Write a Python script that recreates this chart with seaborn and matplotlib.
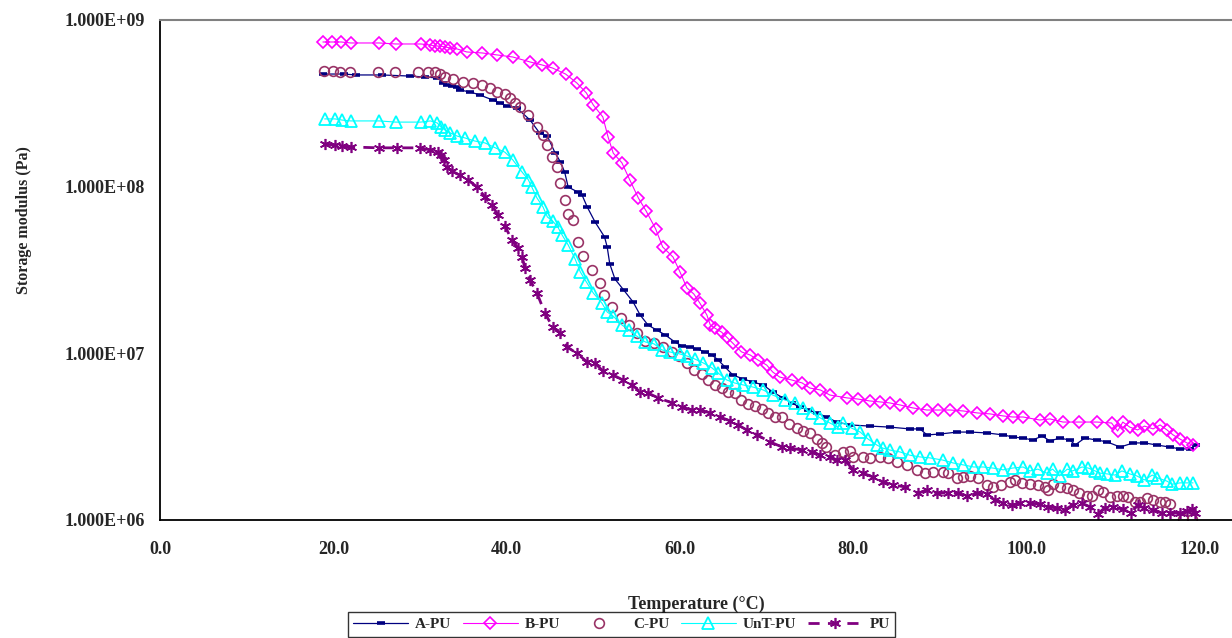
import numpy as np
import pandas as pd
import matplotlib
matplotlib.use("Agg")
import matplotlib.pyplot as plt
import matplotlib.ticker as mticker
import seaborn as sns

# === Storage modulus vs temperature ===
a_temp = [18.8, 21.2, 22.6, 25.6, 28.8, 30.6, 32.0, 32.7, 33.1, 33.7, 34.3, 34.6, 35.8, 36.9,
          38.4, 39.2, 40.0, 41.2, 42.7, 43.8, 44.7, 45.6, 46.2, 46.7, 47.1, 48.2, 48.7, 49.3,
          50.2, 51.3, 51.6, 51.9, 52.5, 53.5, 54.6, 55.4, 56.3, 57.3, 58.3, 59.4, 60.2, 61.2,
          62.0, 62.9, 63.7, 64.4, 65.2, 66.1, 67.3, 68.4, 69.6, 70.7, 71.9, 72.9, 73.8, 74.8,
          75.8, 76.9, 78.1, 79.6, 81.9, 84.2, 86.5, 87.7, 88.5, 90.0, 92.0, 93.5, 95.4, 97.3,
          98.4, 99.6, 100.7, 101.8, 102.7, 103.8, 105.0, 105.6, 106.7, 108.1, 109.3, 110.8,
          112.3, 113.6, 115.0, 116.5, 117.7, 118.8, 119.6]
a_mod = [4.74e8, 4.74e8, 4.68e8, 4.68e8, 4.61e8, 4.55e8, 4.49e8, 4.19e8, 4.07e8, 4.02e8, 3.96e8,
         3.80e8, 3.70e8, 3.55e8, 3.31e8, 3.18e8, 3.05e8, 2.96e8, 2.51e8, 2.10e8, 2.01e8, 1.59e8,
         1.41e8, 1.22e8, 9.95e7, 9.29e7, 8.91e7, 7.55e7, 6.14e7, 4.99e7, 4.35e7, 3.44e7, 2.79e7,
         2.40e7, 2.03e7, 1.70e7, 1.48e7, 1.38e7, 1.29e7, 1.17e7, 1.11e7, 1.09e7, 1.06e7, 1.02e7,
         9.77e6, 9.12e6, 8.28e6, 7.41e6, 7.02e6, 6.73e6, 6.46e6, 5.86e6, 5.40e6, 5.04e6, 4.76e6,
         4.57e6, 4.39e6, 4.15e6, 3.87e6, 3.72e6, 3.66e6, 3.61e6, 3.52e6, 3.52e6, 3.24e6, 3.28e6,
         3.37e6, 3.37e6, 3.33e6, 3.24e6, 3.15e6, 3.10e6, 3.02e6, 3.19e6, 2.98e6, 3.10e6, 3.02e6,
         2.82e6, 3.10e6, 3.02e6, 2.94e6, 2.74e6, 2.90e6, 2.90e6, 2.82e6, 2.74e6, 2.67e6, 2.67e6,
         2.82e6]

b_temp = [18.8, 19.8, 20.9, 22.0, 25.3, 27.2, 30.1, 31.2, 31.7, 32.3, 32.9, 33.5, 34.3, 35.4,
          37.2, 38.9, 40.7, 42.7, 44.1, 45.3, 46.8, 48.1, 49.2, 50.0, 51.1, 51.7, 52.3, 53.3,
          54.2, 55.2, 56.1, 57.2, 58.0, 59.2, 60.0, 60.8, 61.6, 62.3, 63.1, 63.5, 64.0, 64.8,
          65.4, 66.1, 67.1, 68.1, 69.0, 70.0, 70.7, 71.5, 72.9, 74.1, 75.0, 76.2, 77.3, 79.3,
          80.5, 81.9, 83.1, 84.2, 85.4, 86.9, 88.5, 89.8, 91.2, 92.7, 94.3, 95.8, 97.3, 98.4,
          99.6, 101.5, 102.7, 104.2, 106.1, 108.1, 109.8, 110.5, 111.1, 111.9, 112.8, 113.6,
          114.6, 115.4, 116.2, 116.9, 117.7, 118.5, 119.2]
b_mod = [7.38e8, 7.38e8, 7.38e8, 7.28e8, 7.28e8, 7.18e8, 7.18e8, 7.08e8, 6.98e8, 6.98e8, 6.89e8,
         6.79e8, 6.70e8, 6.43e8, 6.34e8, 6.17e8, 6.00e8, 5.60e8, 5.37e8, 5.15e8, 4.74e8, 4.19e8,
         3.65e8, 3.09e8, 2.62e8, 1.99e8, 1.59e8, 1.39e8, 1.10e8, 8.55e7, 7.14e7, 5.57e7, 4.35e7,
         3.78e7, 3.08e7, 2.47e7, 2.27e7, 2.00e7, 1.70e7, 1.48e7, 1.42e7, 1.34e7, 1.25e7, 1.15e7,
         1.02e7, 9.77e6, 9.12e6, 8.51e6, 7.73e6, 7.21e6, 6.92e6, 6.64e6, 6.19e6, 6.03e6, 5.62e6,
         5.40e6, 5.32e6, 5.18e6, 5.11e6, 5.04e6, 4.90e6, 4.70e6, 4.57e6, 4.57e6, 4.57e6, 4.51e6,
         4.39e6, 4.33e6, 4.21e6, 4.15e6, 4.15e6, 3.98e6, 4.04e6, 3.87e6, 3.87e6, 3.87e6, 3.82e6,
         3.42e6, 3.87e6, 3.61e6, 3.47e6, 3.66e6, 3.52e6, 3.72e6, 3.47e6, 3.24e6, 3.06e6, 2.90e6,
         2.82e6]

c_temp = [18.9, 20.0, 20.8, 21.9, 25.2, 27.1, 29.8, 30.9, 31.7, 32.3, 32.9, 33.8, 35.0, 36.1,
          37.2, 38.1, 38.9, 39.8, 40.4, 41.0, 41.5, 42.5, 43.5, 44.2, 44.7, 45.2, 45.8, 46.2,
          46.7, 47.1, 47.7, 48.2, 48.8, 49.8, 50.8, 51.2, 52.2, 53.2, 54.1, 55.0, 56.0, 57.0,
          58.0, 59.1, 59.9, 60.8, 61.6, 62.5, 63.2, 64.0, 64.8, 65.5, 66.3, 67.1, 67.8, 68.7,
          69.5, 70.2, 71.0, 71.8, 72.6, 73.5, 74.2, 75.0, 75.8, 76.4, 76.9, 77.9, 78.8, 79.6,
          80.0, 81.1, 81.9, 83.1, 84.0, 85.0, 86.2, 87.3, 88.3, 89.2, 90.3, 90.9, 92.0, 92.7,
          93.5, 94.4, 95.4, 96.1, 97.1, 98.1, 98.7, 99.5, 100.4, 101.3, 102.1, 102.5, 103.0,
          103.8, 104.7, 105.3, 106.1, 107.0, 107.6, 108.2, 108.8, 109.6, 110.4, 111.1, 111.7,
          112.5, 113.1, 113.9, 114.6, 115.4, 116.0, 116.5, 118.0, 119.1]
c_mod = [4.94e8, 4.94e8, 4.88e8, 4.88e8, 4.88e8, 4.88e8, 4.88e8, 4.88e8, 4.88e8, 4.74e8, 4.55e8,
         4.43e8, 4.25e8, 4.19e8, 4.07e8, 3.91e8, 3.70e8, 3.60e8, 3.40e8, 3.18e8, 3.01e8, 2.69e8,
         2.28e8, 2.04e8, 1.78e8, 1.51e8, 1.31e8, 1.05e8, 8.32e7, 6.85e7, 6.31e7, 4.66e7, 3.84e7,
         3.16e7, 2.64e7, 2.24e7, 1.90e7, 1.63e7, 1.48e7, 1.32e7, 1.19e7, 1.15e7, 1.09e7, 1.02e7,
         9.64e6, 8.75e6, 7.94e6, 7.52e6, 6.92e6, 6.46e6, 6.19e6, 5.86e6, 5.78e6, 5.25e6, 4.97e6,
         4.83e6, 4.63e6, 4.39e6, 4.15e6, 4.15e6, 3.77e6, 3.56e6, 3.42e6, 3.33e6, 3.06e6, 2.90e6,
         2.74e6, 2.45e6, 2.56e6, 2.59e6, 2.39e6, 2.39e6, 2.36e6, 2.39e6, 2.36e6, 2.23e6, 2.14e6,
         2.00e6, 1.91e6, 1.94e6, 1.94e6, 1.91e6, 1.79e6, 1.81e6, 1.84e6, 1.79e6, 1.62e6, 1.58e6,
         1.62e6, 1.69e6, 1.74e6, 1.67e6, 1.64e6, 1.62e6, 1.58e6, 1.51e6, 1.64e6, 1.58e6, 1.56e6,
         1.51e6, 1.45e6, 1.39e6, 1.39e6, 1.51e6, 1.47e6, 1.37e6, 1.39e6, 1.39e6, 1.37e6, 1.28e6,
         1.28e6, 1.36e6, 1.32e6, 1.28e6, 1.28e6, 1.25e6, 1.02e6, 1.02e6]

unt_temp = [19.0, 20.2, 21.0, 22.0, 25.3, 27.2, 30.1, 31.2, 32.0, 32.4, 32.9, 33.5, 34.3, 35.2,
            36.3, 37.5, 38.7, 39.8, 40.7, 41.8, 42.5, 42.9, 43.5, 44.2, 44.7, 45.3, 45.9, 46.4,
            47.1, 47.9, 48.5, 49.2, 50.0, 51.0, 51.6, 52.3, 53.3, 54.1, 55.0, 56.0, 57.0, 57.9,
            58.8, 60.0, 60.8, 61.7, 62.7, 63.7, 64.4, 65.4, 66.3, 67.3, 68.4, 69.6, 70.7, 72.1,
            73.3, 74.2, 75.2, 76.2, 77.3, 78.2, 78.8, 79.8, 80.8, 81.7, 82.7, 83.4, 84.2, 85.4,
            86.5, 87.7, 88.8, 90.3, 91.5, 92.7, 93.9, 95.0, 96.1, 97.3, 98.4, 99.6, 100.4, 101.3,
            102.3, 103.0, 103.8, 104.7, 105.3, 106.4, 107.1, 107.9, 108.5, 109.3, 110.2, 111.0,
            111.9, 112.7, 113.6, 114.5, 115.1, 116.2, 116.8, 117.7, 118.5, 119.2]
unt_mod = [2.55e8, 2.55e8, 2.51e8, 2.48e8, 2.48e8, 2.44e8, 2.44e8, 2.48e8, 2.41e8, 2.28e8, 2.19e8,
           2.10e8, 2.01e8, 1.96e8, 1.88e8, 1.83e8, 1.71e8, 1.61e8, 1.45e8, 1.22e8, 1.10e8, 9.95e7,
           8.55e7, 7.55e7, 6.58e7, 6.22e7, 5.73e7, 5.13e7, 4.47e7, 3.68e7, 3.08e7, 2.68e7, 2.30e7,
           2.00e7, 1.77e7, 1.67e7, 1.48e7, 1.38e7, 1.27e7, 1.17e7, 1.14e7, 1.05e7, 1.02e7, 9.91e6,
           9.64e6, 9.25e6, 8.75e6, 8.17e6, 7.62e6, 6.92e6, 6.64e6, 6.46e6, 6.28e6, 6.03e6, 5.62e6,
           5.25e6, 5.04e6, 4.70e6, 4.39e6, 4.09e6, 3.82e6, 3.61e6, 3.82e6, 3.56e6, 3.37e6, 3.06e6,
           2.82e6, 2.70e6, 2.63e6, 2.56e6, 2.45e6, 2.39e6, 2.36e6, 2.29e6, 2.20e6, 2.14e6, 2.08e6,
           2.08e6, 2.05e6, 2.00e6, 2.05e6, 2.08e6, 1.97e6, 2.02e6, 1.91e6, 2.02e6, 1.84e6, 2.02e6,
           1.97e6, 2.08e6, 2.05e6, 1.97e6, 1.91e6, 1.89e6, 1.86e6, 1.97e6, 1.89e6, 1.84e6, 1.74e6,
           1.86e6, 1.79e6, 1.71e6, 1.64e6, 1.67e6, 1.67e6, 1.67e6]

pu_temp = [19.0, 20.2, 21.0, 22.0, 25.3, 27.3, 30.0, 31.2, 32.1, 32.4, 32.8, 33.1, 33.7, 34.6,
           35.5, 36.6, 37.5, 38.3, 39.0, 39.8, 40.6, 41.3, 41.8, 42.1, 42.7, 43.5, 44.4, 45.3,
           46.2, 47.0, 48.1, 49.3, 50.2, 51.1, 52.3, 53.4, 54.5, 55.4, 56.3, 57.5, 59.1, 60.2,
           61.4, 62.3, 63.5, 64.6, 65.8, 66.7, 67.7, 68.9, 70.4, 71.8, 72.7, 74.1, 75.2, 76.2,
           77.3, 78.1, 79.0, 80.0, 81.1, 82.3, 83.4, 84.6, 86.0, 87.5, 88.5, 89.7, 90.9, 92.1,
           93.1, 94.3, 95.4, 96.3, 97.3, 98.3, 99.2, 100.4, 101.5, 102.5, 103.5, 104.4, 105.3,
           106.4, 107.3, 108.2, 109.0, 110.0, 111.1, 112.1, 112.8, 113.6, 114.6, 115.6, 116.5,
           117.7, 118.5, 119.1, 119.4]
pu_mod = [1.80e8, 1.78e8, 1.75e8, 1.73e8, 1.71e8, 1.71e8, 1.71e8, 1.66e8, 1.61e8, 1.55e8, 1.45e8,
          1.31e8, 1.24e8, 1.17e8, 1.10e8, 9.95e7, 8.67e7, 7.76e7, 6.76e7, 5.81e7, 4.79e7, 4.29e7,
          3.78e7, 3.25e7, 2.75e7, 2.30e7, 1.75e7, 1.44e7, 1.32e7, 1.09e7, 1.00e7, 8.87e6, 8.75e6,
          7.83e6, 7.41e6, 6.92e6, 6.46e6, 5.86e6, 5.78e6, 5.40e6, 5.04e6, 4.76e6, 4.57e6, 4.57e6,
          4.39e6, 4.15e6, 3.93e6, 3.72e6, 3.47e6, 3.24e6, 2.94e6, 2.74e6, 2.70e6, 2.63e6, 2.56e6,
          2.45e6, 2.39e6, 2.29e6, 2.29e6, 2.00e6, 1.91e6, 1.81e6, 1.69e6, 1.62e6, 1.58e6, 1.45e6,
          1.51e6, 1.45e6, 1.45e6, 1.45e6, 1.39e6, 1.45e6, 1.43e6, 1.32e6, 1.26e6, 1.23e6, 1.26e6,
          1.26e6, 1.25e6, 1.20e6, 1.18e6, 1.15e6, 1.23e6, 1.26e6, 1.20e6, 1.09e6, 1.18e6, 1.20e6,
          1.16e6, 1.10e6, 1.23e6, 1.18e6, 1.15e6, 1.10e6, 1.10e6, 1.10e6, 1.13e6, 1.16e6, 1.10e6]

x_ticks = [0, 20, 40, 60, 80, 100, 120]
y_ticks = [1e6, 1e7, 1e8, 1e9]

# === Build one long table ===
frames = []
for name, t, e in [("A-PU", a_temp, a_mod), ("B-PU", b_temp, b_mod), ("C-PU", c_temp, c_mod),
                   ("UnT-PU", unt_temp, unt_mod), ("PU", pu_temp, pu_mod)]:
    frames.append(pd.DataFrame({"Sample": name, "Temperature": t, "Modulus": e}))
df = pd.concat(frames, ignore_index=True)

# seaborn lineplot defaults marker edges to white, so every colour is given explicitly
styles = {
    "A-PU": dict(color="#000080", markeredgecolor="#000080", linestyle="-", linewidth=0.9,
                 marker="_", markersize=6, markeredgewidth=2.6),
    "B-PU": dict(color="#FF00FF", markeredgecolor="#FF00FF", linestyle="-", linewidth=0.8,
                 marker="D", markersize=6, markeredgewidth=1.2, markerfacecolor="none"),
    "C-PU": dict(color="#993366", markeredgecolor="#993366", linestyle="none", marker="o",
                 markersize=7, markeredgewidth=1.2, markerfacecolor="none"),
    "UnT-PU": dict(color="#00FFFF", markeredgecolor="#00FFFF", linestyle="-", linewidth=0.8,
                   marker="^", markersize=8, markeredgewidth=1.3, markerfacecolor="none"),
    "PU": dict(color="#800080", markeredgecolor="#800080", linestyle=(0, (4, 3)),
               linewidth=2.0, marker=(6, 2, 0), markersize=8, markeredgewidth=1.2),
}

sns.set_style("white")
plt.rcParams["font.family"] = ["Liberation Serif", "DejaVu Serif"]
plt.rcParams["font.weight"] = "bold"

fig = plt.figure(figsize=(12.32, 6.38), dpi=100)
ax = fig.add_axes([160 / 1232, 1 - 520 / 638, 1 - 160 / 1232, 500 / 638])

for name in ["A-PU", "B-PU", "C-PU", "UnT-PU", "PU"]:
    sub = df[df["Sample"] == name]
    sns.lineplot(data=sub, x="Temperature", y="Modulus", ax=ax, sort=False, estimator=None,
                 label=name, legend=False, **styles[name])

ax.set_yscale("log")
ax.set_ylim(1e6, 1e9)
ax.set_xlim(0, 123.7)
ax.set_xticks(x_ticks)
ax.xaxis.set_major_formatter(mticker.FuncFormatter(lambda v, p: f"{v:.1f}"))
ax.set_yticks(y_ticks)
ax.yaxis.set_minor_locator(mticker.NullLocator())
ax.yaxis.set_major_formatter(mticker.FuncFormatter(lambda v, p: f"{v:.3E}"))
ax.tick_params(axis="both", direction="out", length=5, width=1, color="black",
               labelsize=13, pad=6)
ax.tick_params(axis="x", pad=10)
for lbl in ax.get_xticklabels() + ax.get_yticklabels():
    lbl.set_fontweight("bold")

ax.spines["right"].set_visible(False)
ax.spines["top"].set_color("#808080")
ax.spines["top"].set_linewidth(1.5)
ax.spines["left"].set_color("black")
ax.spines["bottom"].set_color("black")
ax.spines["left"].set_linewidth(1.3)
ax.spines["bottom"].set_linewidth(1.3)

ax.set_xlabel("Temperature (°C)", fontsize=13, fontweight="bold")
ax.xaxis.set_label_coords(0.5, -0.152)
ax.set_ylabel("Storage modulus (Pa)", fontsize=11.5, fontweight="bold")
ax.yaxis.set_label_coords(-0.1195, 0.6)

leg = ax.legend(loc="center", bbox_to_anchor=(621.5 / 1232, 1 - 624.5 / 638),
                bbox_transform=fig.transFigure, ncol=5, frameon=True, fancybox=False,
                prop={"weight": "bold", "size": 11}, handlelength=3.6, columnspacing=0.75,
                handletextpad=0.45, borderpad=0.35, borderaxespad=0, numpoints=1)
leg.get_frame().set_edgecolor("black")
leg.get_frame().set_linewidth(1.0)

fig.savefig("out.png", dpi=100)
